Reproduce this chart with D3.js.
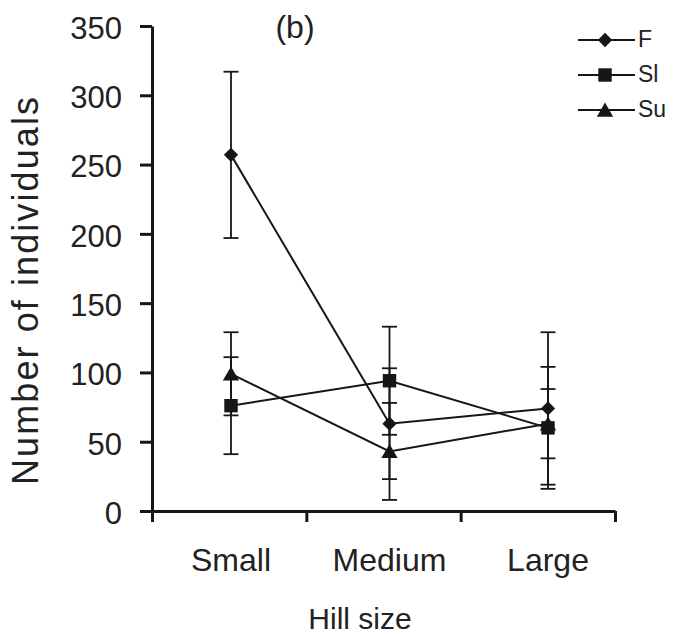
<!DOCTYPE html>
<html>
<head>
<meta charset="utf-8">
<script src="https://cdn.jsdelivr.net/npm/d3@7"></script>
<style>
  html, body { margin: 0; padding: 0; background: #fff; }
  svg { display: block; font-family: "Liberation Sans", Arial, sans-serif; }
</style>
</head>
<body>
<svg id="chart" width="676" height="634"></svg>
<script>
// Hill size categories and mean counts (± error) for the three groups
const categories = ["Small", "Medium", "Large"];
const seriesNames = ["F", "Sl", "Su"];
const valuesF  = [257, 63, 74];
const errorsF  = [60, 40, 55];
const valuesSl = [76, 94, 60];
const errorsSl = [35, 39, 44];
const valuesSu = [99, 43, 63];
const errorsSu = [30, 35, 25];
const yTicks = [0, 50, 100, 150, 200, 250, 300, 350];

const ink = "#161616";
const svg = d3.select("#chart");

const y = d3.scaleLinear().domain([0, 350]).range([511, 26]);
// category centres for points and labels
const x = d3.scalePoint().domain(categories).range([231, 548]);
// category boundaries along the horizontal axis
const xEdges = d3.scaleLinear().domain([0, categories.length]).range([152, 615]);

const symbols = {
  F: d3.symbol().type(d3.symbolDiamond2).size(130),
  Sl: d3.symbol().type(d3.symbolSquare).size(180),
  Su: d3.symbol().type(d3.symbolTriangle).size(115)
};
const series = [
  { name: "F",  values: valuesF,  errors: errorsF },
  { name: "Sl", values: valuesSl, errors: errorsSl },
  { name: "Su", values: valuesSu, errors: errorsSu }
];

// y axis
const yAxis = svg.append("g")
  .attr("transform", "translate(152,0)")
  .call(d3.axisLeft(y).tickValues(yTicks).tickSize(12).tickSizeOuter(0).tickPadding(18));
yAxis.select(".domain").attr("stroke", ink).attr("stroke-width", 3);
yAxis.selectAll(".tick line").attr("stroke", ink).attr("stroke-width", 3);
yAxis.selectAll(".tick text")
  .attr("fill", "#222").attr("font-size", 31).attr("dy", "0.4em")
  .attr("font-family", "Liberation Sans, Arial, sans-serif");

// x axis (ticks at category boundaries)
const xAxis = svg.append("g")
  .attr("transform", "translate(0,511)")
  .call(d3.axisBottom(xEdges).tickValues(d3.range(categories.length + 1))
    .tickSize(11).tickSizeOuter(0).tickFormat(""));
xAxis.select(".domain").attr("stroke", ink).attr("stroke-width", 3);
xAxis.selectAll(".tick line").attr("stroke", ink).attr("stroke-width", 3);

// category labels
svg.append("g").selectAll("text")
  .data(categories).join("text")
  .attr("x", d => x(d)).attr("y", 571)
  .attr("text-anchor", "middle").attr("font-size", 32).attr("fill", "#222")
  .text(d => d);

// axis titles
svg.append("text")
  .attr("x", 360).attr("y", 629)
  .attr("text-anchor", "middle").attr("font-size", 30).attr("fill", "#222")
  .text("Hill size");
svg.append("text")
  .attr("transform", "translate(38,291) rotate(-90)")
  .attr("text-anchor", "middle").attr("font-size", 36).attr("fill", "#222")
  .attr("textLength", 388).attr("lengthAdjust", "spacing")
  .text("Number of individuals");

// panel tag
svg.append("text")
  .attr("x", 295).attr("y", 38)
  .attr("text-anchor", "middle").attr("font-size", 32).attr("fill", "#222")
  .text("(b)");

// error bars
const capW = 7.5;
const errG = svg.append("g").attr("stroke", ink).attr("stroke-width", 1.8).attr("fill", "none");
series.forEach(s => {
  categories.forEach((c, i) => {
    const cx = x(c), hi = y(s.values[i] + s.errors[i]), lo = y(s.values[i] - s.errors[i]);
    errG.append("line").attr("x1", cx).attr("x2", cx).attr("y1", hi).attr("y2", lo);
    errG.append("line").attr("x1", cx - capW).attr("x2", cx + capW).attr("y1", hi).attr("y2", hi);
    errG.append("line").attr("x1", cx - capW).attr("x2", cx + capW).attr("y1", lo).attr("y2", lo);
  });
});

// series lines and markers
const line = d3.line().x((d, i) => x(categories[i])).y(d => y(d));
series.forEach(s => {
  svg.append("path")
    .attr("d", line(s.values))
    .attr("fill", "none").attr("stroke", ink).attr("stroke-width", 2);
  svg.append("g").selectAll("path")
    .data(s.values).join("path")
    .attr("transform", (d, i) => `translate(${x(categories[i])},${y(d) + (s.name === "Su" ? 2 : 0)})`)
    .attr("d", symbols[s.name]())
    .attr("fill", ink);
});

// legend
const legend = svg.append("g");
series.forEach((s, i) => {
  const ly = 40 + i * 35;
  legend.append("line")
    .attr("x1", 578).attr("x2", 635).attr("y1", ly).attr("y2", ly)
    .attr("stroke", ink).attr("stroke-width", 1.8);
  legend.append("path")
    .attr("transform", `translate(605,${ly + (s.name === "Su" ? 2 : 0)})`)
    .attr("d", symbols[s.name]())
    .attr("fill", ink);
  legend.append("text")
    .attr("x", 638).attr("y", ly + 7)
    .attr("font-size", 23).attr("fill", "#222")
    .text(s.name);
});
</script>
</body>
</html>
